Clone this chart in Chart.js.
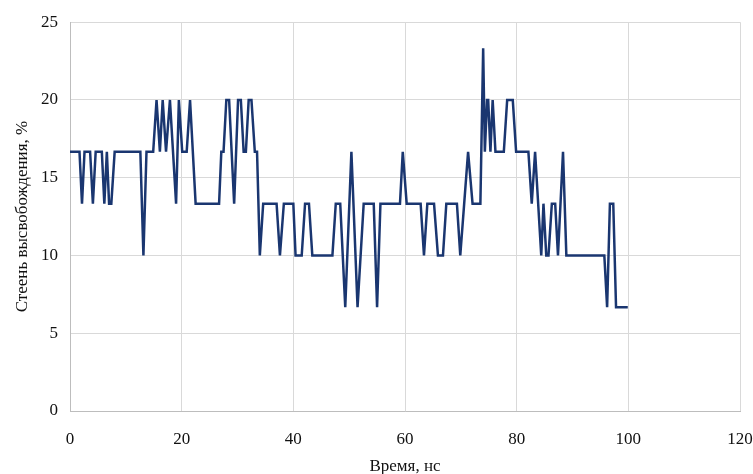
<!DOCTYPE html>
<html>
<head>
<meta charset="utf-8">
<script src="https://cdn.jsdelivr.net/npm/chart.js@4"></script>
<style>
  html, body { margin: 0; padding: 0; background: #fff; }
  #wrap { width: 753px; height: 474px; }
</style>
</head>
<body>
<div id="wrap"><canvas id="chart" width="753" height="474"></canvas></div>
<script>
// vertices of the release curve
const times = [
  0, 1.7, 2.15, 2.6, 3.6, 4.1, 4.6, 5.7, 6.15, 6.6, 7.0, 7.4, 8.0, 12.6, 13.15, 13.7, 14.9,
  15.5, 16.1, 16.6, 17.2, 17.9, 19.0, 19.5, 20.1, 20.9, 21.5, 22.5, 26.7, 27.1, 27.5, 28.0, 28.5,
  29.4, 30.1, 30.6, 31.1, 31.5, 32.0, 32.5, 33.1, 33.5, 34.0, 34.6, 37.0, 37.6, 38.3, 40.0, 40.4,
  41.5, 42.1, 42.8, 43.4, 47.0, 47.6, 48.4, 49.3, 50.4, 51.5, 52.6, 54.4, 55.0, 55.6, 59.1, 59.6,
  60.3, 62.8, 63.4, 64.0, 65.2, 65.9, 66.8, 67.4, 69.3, 69.9, 70.6, 71.3, 72.1, 73.5, 74.0, 74.3,
  74.7, 74.9, 75.3, 75.7, 76.2, 77.7, 78.3, 79.3, 79.9, 82.1, 82.7, 83.3, 84.4, 84.8, 85.3, 85.7,
  86.3, 86.9, 87.4, 88.3, 88.9, 95.7, 96.2, 96.7, 97.3, 97.8, 99.9
];
const release = [
  16.67, 16.67, 13.33, 16.67, 16.67, 13.33, 16.67, 16.67, 13.33, 16.67, 13.33, 13.33, 16.67, 16.67, 10, 16.67, 16.67,
  20, 16.67, 20, 16.67, 20, 13.33, 20, 16.67, 16.67, 20, 13.33, 13.33, 16.67, 16.67, 20, 20,
  13.33, 20, 20, 16.67, 16.67, 20, 20, 16.67, 16.67, 10, 13.33, 13.33, 10, 13.33, 13.33, 10,
  10, 13.33, 13.33, 10, 10, 13.33, 13.33, 6.67, 16.67, 6.67, 13.33, 13.33, 6.67, 13.33, 13.33, 16.67,
  13.33, 13.33, 10, 13.33, 13.33, 10, 10, 13.33, 13.33, 10, 13.33, 16.67, 13.33, 13.33, 23.33, 16.67,
  20, 20, 16.67, 20, 16.67, 16.67, 20, 20, 16.67, 16.67, 13.33, 16.67, 10, 13.33, 10, 10,
  13.33, 13.33, 10, 16.67, 10, 10, 6.67, 13.33, 13.33, 6.67, 6.67
];

const xTitle = 'Время, нс';
const yTitle = 'Стеень высвобождения, %';

const font = { family: '"Liberation Serif", "DejaVu Serif", serif', size: 17 };

const ctx = document.getElementById('chart').getContext('2d');
new Chart(ctx, {
  type: 'line',
  data: {
    datasets: [{
      data: times.map((t, i) => ({ x: t, y: release[i] })),
      borderColor: '#1a3670',
      borderWidth: 2.5,
      pointRadius: 0,
      fill: false,
      tension: 0
    }]
  },
  options: {
    responsive: false,
    animation: false,
    layout: { padding: { top: 19, right: 0, left: 0, bottom: 0 } },
    plugins: { legend: { display: false }, tooltip: { enabled: false } },
    scales: {
      x: {
        type: 'linear',
        min: 0, max: 120,
        ticks: { stepSize: 20, color: '#111', font: font, padding: 18, maxRotation: 0 },
        grid: { color: '#d9d9d9', drawTicks: false },
        border: { color: '#bdbdbd' },
        title: { display: true, text: xTitle, color: '#111', font: font, padding: { top: 8, bottom: -3 } },
        afterFit: scale => {
          scale.height = 63;
          scale.paddingRight = 13; // plot runs nearly to the right edge
        }
      },
      y: {
        min: 0, max: 25,
        ticks: { stepSize: 5, color: '#111', font: font, padding: 12 },
        grid: { color: '#d9d9d9', drawTicks: false },
        border: { color: '#bdbdbd' },
        title: { display: true, text: yTitle, color: '#111', font: font, padding: { top: 12, bottom: 0 } },
        afterFit: scale => { scale.width = 70; }
      }
    }
  }
});
</script>
</body>
</html>
